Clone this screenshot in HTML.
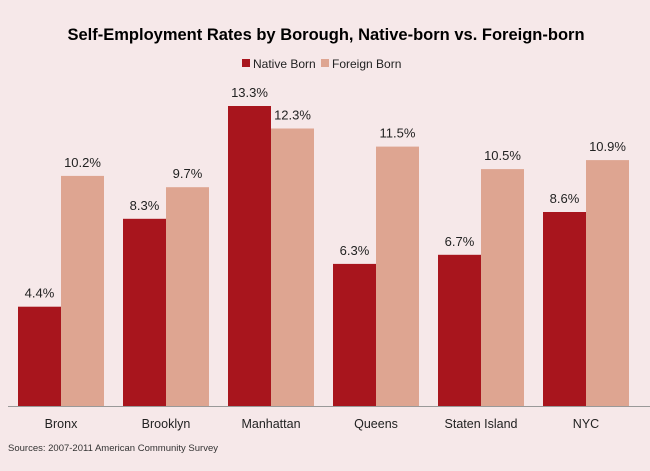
<!DOCTYPE html>
<html><head><style>
body{margin:0;width:650px;height:466px;background:#f6e8e9;overflow:hidden}
</style></head><body>
<svg width="650" height="466" xmlns="http://www.w3.org/2000/svg" font-family="Liberation Sans, sans-serif">
<rect width="650" height="466" fill="#f6e8e9"/>
<text x="326" y="40" text-anchor="middle" font-size="16.5" font-weight="bold" fill="#000">Self-Employment Rates by Borough, Native-born vs. Foreign-born</text>
<rect x="242" y="59" width="8" height="8" fill="#a8151d"/>
<text x="253" y="68" font-size="12" fill="#222">Native Born</text>
<rect x="321" y="59" width="8" height="8" fill="#dea591"/>
<text x="332" y="68" font-size="12" fill="#222">Foreign Born</text>
<g font-size="13" fill="#222" text-anchor="middle">
<rect x="18" y="306.7" width="43" height="99.3" fill="#a8151d"/><text x="39.5" y="297.7">4.4%</text>
<rect x="61" y="175.9" width="43" height="230.1" fill="#dea591"/><text x="82.5" y="166.9">10.2%</text>
<text x="61" y="428" font-size="12.5">Bronx</text>
<rect x="123" y="218.8" width="43" height="187.2" fill="#a8151d"/><text x="144.5" y="209.8">8.3%</text>
<rect x="166" y="187.2" width="43" height="218.8" fill="#dea591"/><text x="187.5" y="178.2">9.7%</text>
<text x="166" y="428" font-size="12.5">Brooklyn</text>
<rect x="228" y="106" width="43" height="300" fill="#a8151d"/><text x="249.5" y="97">13.3%</text>
<rect x="271" y="128.5" width="43" height="277.5" fill="#dea591"/><text x="292.5" y="119.5">12.3%</text>
<text x="271" y="428" font-size="12.5">Manhattan</text>
<rect x="333" y="263.9" width="43" height="142.1" fill="#a8151d"/><text x="354.5" y="254.9">6.3%</text>
<rect x="376" y="146.6" width="43" height="259.4" fill="#dea591"/><text x="397.5" y="137.6">11.5%</text>
<text x="376" y="428" font-size="12.5">Queens</text>
<rect x="438" y="254.8" width="43" height="151.2" fill="#a8151d"/><text x="459.5" y="245.8">6.7%</text>
<rect x="481" y="169.1" width="43" height="236.9" fill="#dea591"/><text x="502.5" y="160.1">10.5%</text>
<text x="481" y="428" font-size="12.5">Staten Island</text>
<rect x="543" y="212" width="43" height="194" fill="#a8151d"/><text x="564.5" y="203">8.6%</text>
<rect x="586" y="160.1" width="43" height="245.9" fill="#dea591"/><text x="607.5" y="151.1">10.9%</text>
<text x="586" y="428" font-size="12.5">NYC</text>
</g>
<line x1="8" y1="406.5" x2="650" y2="406.5" stroke="#999" stroke-width="1"/>
<text x="8" y="451" font-size="9.5" fill="#333">Sources: 2007-2011 American Community Survey</text>
</svg>
</body></html>
